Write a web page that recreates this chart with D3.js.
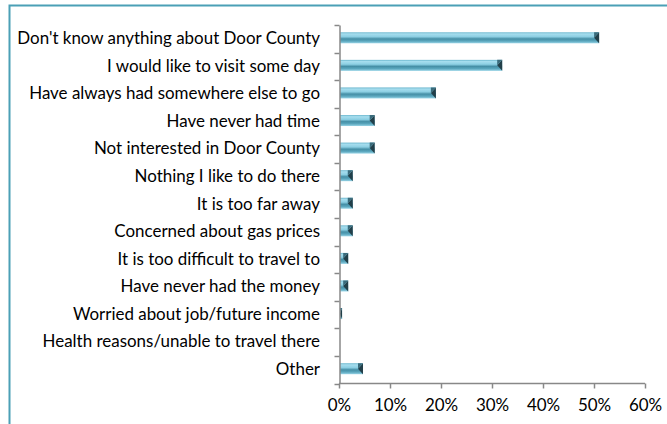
<!DOCTYPE html>
<html>
<head>
<meta charset="utf-8">
<script src="https://cdn.jsdelivr.net/npm/d3@7/dist/d3.min.js"></script>
<style>
  html, body { margin: 0; padding: 0; background: #fff; }
  svg { display: block; }
  text { font-family: Lato, "Open Sans", sans-serif; fill: #000; }
</style>
</head>
<body>
<svg id="chart" width="667" height="424"></svg>
<script>
// Reasons for not visiting Door County (share of respondents)
const categories = [
  "Don't know anything about Door County",
  "I would like to visit some day",
  "Have always had somewhere else to go",
  "Have never had time",
  "Not interested in Door County",
  "Nothing I like to do there",
  "It is too far away",
  "Concerned about gas prices",
  "It is too difficult to travel to",
  "Have never had the money",
  "Worried about job/future income",
  "Health reasons/unable to travel there",
  "Other"
];
const values = [0.51, 0.32, 0.19, 0.07, 0.07, 0.027, 0.027, 0.027, 0.018, 0.018, 0.006, 0, 0.047];
const xTicks = [0, 0.1, 0.2, 0.3, 0.4, 0.5, 0.6];

const svg = d3.select("#chart");
const plot = { left: 339, right: 645, top: 25, bottom: 383.5 };

// Outer frame, running past the right and bottom edges
svg.append("rect")
  .attr("x", 9.5).attr("y", 5.5)
  .attr("width", 800).attr("height", 600)
  .attr("fill", "none")
  .attr("stroke", "#4ba0b6")
  .attr("stroke-width", 2);

const x = d3.scaleLinear().domain([0, 0.6]).range([plot.left, plot.right]);
const y = d3.scaleBand().domain(categories).range([plot.top, plot.bottom]).padding(0);

// Bar fill: cylinder-like vertical shading
const defs = svg.append("defs");
const grad = defs.append("linearGradient")
  .attr("id", "barFill").attr("x1", 0).attr("y1", 0).attr("x2", 0).attr("y2", 1);
[
  [0, "#6ab6cd"], [0.15, "#a6ddee"], [0.4, "#8ccfe3"],
  [0.6, "#458fa6"], [0.8, "#5aa6bd"], [1, "#98d4e6"]
].forEach(([o, c]) => grad.append("stop").attr("offset", o).attr("stop-color", c));

const barH = 11;
const bars = svg.append("g");
categories.forEach((c, i) => {
  const v = values[i];
  if (v <= 0) return;
  const x0 = x(0) + 1, x1 = x(v);
  const yc = y(c) + y.bandwidth() / 2 - 1;
  const y0 = yc - barH / 2;
  bars.append("rect")
    .attr("x", x0).attr("y", y0)
    .attr("width", Math.max(0, x1 - x0)).attr("height", barH)
    .attr("fill", "url(#barFill)");
  // bevelled end cap
  const cap = Math.min(5, Math.max(1.5, x1 - x0));
  bars.append("polygon")
    .attr("points", [[x1 - cap, yc], [x1, y0], [x1, y0 + barH]].map(p => p.join(",")).join(" "))
    .attr("fill", "#223f49");
  bars.append("polygon")
    .attr("points", [[x1 - cap, y0], [x1, y0], [x1 - cap, yc]].map(p => p.join(",")).join(" "))
    .attr("fill", "#3a6b7b");
});

// Category axis
const yAxis = d3.axisLeft(y).tickSize(0).tickPadding(0).tickFormat("");
const gy = svg.append("g").attr("transform", `translate(${plot.left + 0.5},0)`).call(yAxis);
gy.select(".domain").attr("stroke", "#888").attr("stroke-width", 1.5);
// tick marks at band boundaries
const bounds = categories.map(c => y(c)).concat([plot.bottom]);
gy.selectAll("line.b").data(bounds).join("line")
  .attr("class", "b")
  .attr("x1", -5).attr("x2", 0)
  .attr("y1", d => Math.round(d) + 0.5).attr("y2", d => Math.round(d) + 0.5)
  .attr("stroke", "#888").attr("stroke-width", 1.5);

// Category labels, sized so the longest fits its slot
const labels = svg.append("g").selectAll("text").data(categories).join("text")
  .attr("x", 320)
  .attr("y", d => y(d) + y.bandwidth() / 2 + 1)
  .attr("text-anchor", "end")
  .attr("dominant-baseline", "middle")
  .style("font-size", "15px")
  .text(d => d);
const longest = d3.max(labels.nodes(), n => n.getComputedTextLength());
const fs = 15 * 303 / longest;
labels.style("font-size", fs.toFixed(2) + "px");

// Value axis
const xAxis = d3.axisBottom(x).tickValues(xTicks).tickSize(5).tickPadding(10)
  .tickFormat(d3.format(".0%"));
const gx = svg.append("g").attr("transform", `translate(0,${plot.bottom})`).call(xAxis);
gx.select(".domain").attr("stroke", "#888").attr("stroke-width", 1.5)
  .attr("d", `M${plot.left},0H${plot.right}`);
gx.selectAll(".tick line").attr("stroke", "#888").attr("stroke-width", 1.5);
gx.selectAll(".tick text")
  .style("font-size", fs.toFixed(2) + "px")
  .style("font-family", "Lato, 'Open Sans', sans-serif")
  .attr("fill", "#000");
</script>
</body>
</html>
